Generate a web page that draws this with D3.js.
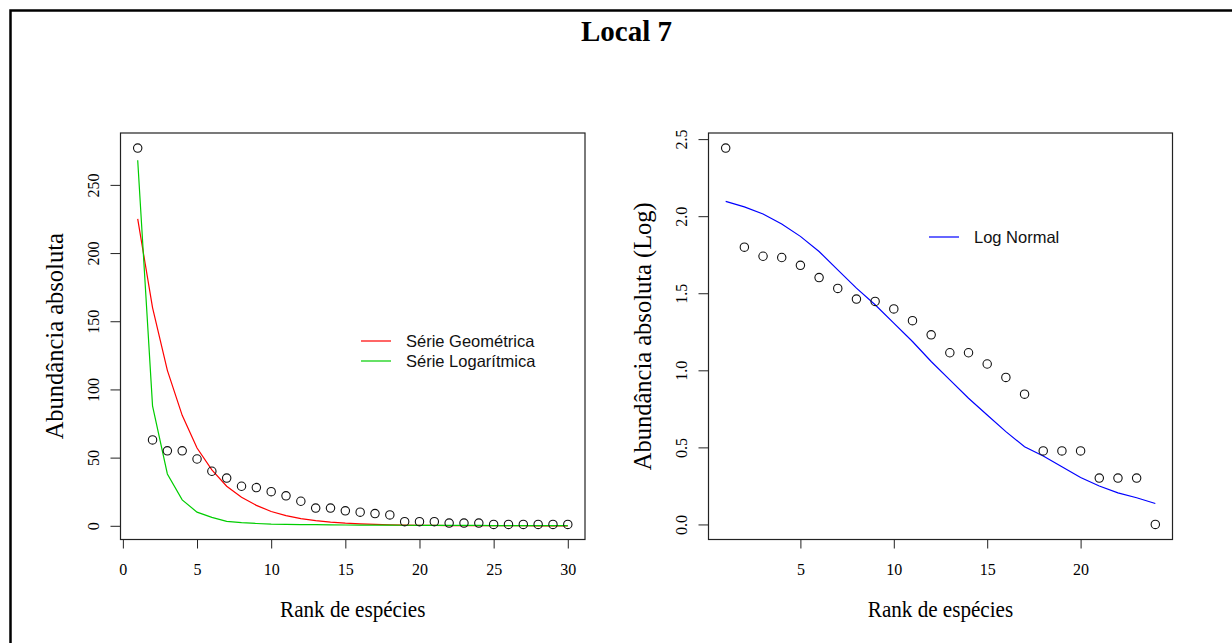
<!DOCTYPE html>
<html>
<head>
<meta charset="utf-8">
<script src="https://cdn.jsdelivr.net/npm/d3@7"></script>
<style>
  html, body { margin: 0; padding: 0; background: #fff; overflow: hidden; }
  svg { display: block; }
</style>
</head>
<body>
<svg id="chart" width="1232" height="643"></svg>
<script>
// Rank-abundance data, Local 7
const ranksLeft = [1,2,3,4,5,6,7,8,9,10,11,12,13,14,15,16,17,18,19,20,21,22,23,24,25,26,27,28,29,30];
const abundance = [277,63,55,55,49,40,35,29,28,25,22,18,13,13,11,10,9,8,3,3,3,2,2,2,1,1,1,1,1,1];
// Fitted geometric series
const geometricFit = [225,160,114,81,57,41,29,21,15,10.5,7.5,5.3,3.8,2.7,1.9,1.4,1.0,0.7,0.5,0.35,0.25,0.18,0.13,0.09,0.06,0.05,0.03,0.02,0.02,0.01];
// Fitted log series
const logSeriesFit = [268,88,38,19,10,6.2,3.3,2.3,1.7,1.2,1.0,0.9,0.8,0.7,0.6,0.55,0.5,0.45,0.4,0.35,0.3,0.3,0.25,0.25,0.2,0.2,0.2,0.15,0.15,0.15];

const ranksRight = [1,2,3,4,5,6,7,8,9,10,11,12,13,14,15,16,17,18,19,20,21,22,23,24];
const logAbundance = [2.442,1.799,1.740,1.732,1.681,1.602,1.531,1.462,1.447,1.398,1.322,1.230,1.114,1.114,1.041,0.954,0.845,0.477,0.477,0.477,0.301,0.301,0.301,0];
// Fitted log-normal
const logNormalFit = [2.096,2.060,2.014,1.949,1.869,1.771,1.652,1.533,1.425,1.306,1.187,1.057,0.938,0.819,0.710,0.602,0.504,0.444,0.374,0.305,0.249,0.205,0.173,0.136];

const xTicksLeft = [0,5,10,15,20,25,30];
const yTicksLeft = [0,50,100,150,200,250];
const xTicksRight = [5,10,15,20];
const yTicksRight = [0,0.5,1,1.5,2,2.5];

const SERIF = "'Liberation Serif', 'Times New Roman', serif";
const SANS = "'Liberation Sans', Arial, sans-serif";

const svg = d3.select("#chart");

// outer frame
svg.append("rect")
  .attr("x", 10.5).attr("y", 10.5)
  .attr("width", 1234).attr("height", 700)
  .attr("fill", "none").attr("stroke", "#000").attr("stroke-width", 2.5);

svg.append("text")
  .attr("x", 626.5).attr("y", 40.5)
  .attr("text-anchor", "middle")
  .attr("font-family", SERIF).attr("font-weight", "bold").attr("font-size", 29)
  .text("Local 7");

// padded domain: 4% beyond the data range on each side
function padded(vals) {
  const [a, b] = d3.extent(vals);
  const p = (b - a) * 0.04;
  return [a - p, b + p];
}

function panel(opts) {
  const { x0, x1, y0, y1 } = opts;
  const x = d3.scaleLinear().domain(padded(opts.xs)).range([x0, x1]);
  const y = d3.scaleLinear().domain(padded(opts.ys)).range([y1, y0]);
  const g = svg.append("g");

  // x axis ticks and labels
  const xa = g.append("g").attr("transform", `translate(0,${y1})`)
    .call(d3.axisBottom(x).tickValues(opts.xTicks).tickSize(9).tickPadding(15).tickFormat(d3.format("d")));
  xa.select(".domain").remove();
  xa.selectAll("line").attr("stroke", "#222");
  xa.selectAll("text").attr("font-family", SERIF).attr("font-size", 16).attr("fill", "#000");

  // y axis ticks and rotated labels
  const ya = g.append("g").attr("transform", `translate(${x0},0)`)
    .call(d3.axisLeft(y).tickValues(opts.yTicks).tickSize(10).tickFormat(opts.yFormat));
  ya.select(".domain").remove();
  ya.selectAll("line").attr("stroke", "#222");
  ya.selectAll("text")
    .attr("x", null).attr("dy", "0.35em")
    .attr("transform", "translate(-27,0) rotate(-90)")
    .attr("text-anchor", "middle")
    .attr("font-family", SERIF).attr("font-size", 16).attr("fill", "#000");

  // fitted curves
  const line = d3.line().x((d, i) => x(opts.xs[i])).y(d => y(d));
  opts.curves.forEach(c => {
    g.append("path").datum(c.values)
      .attr("d", line).attr("fill", "none")
      .attr("stroke", c.color).attr("stroke-width", 1.2);
  });

  // observed points
  g.selectAll("circle.obs").data(opts.ys).join("circle")
    .attr("class", "obs")
    .attr("cx", (d, i) => x(opts.xs[i])).attr("cy", d => y(d))
    .attr("r", 4.2).attr("fill", "none").attr("stroke", "#111").attr("stroke-width", 1.1);

  // box
  g.append("rect")
    .attr("x", x0).attr("y", y0).attr("width", x1 - x0).attr("height", y1 - y0)
    .attr("fill", "none").attr("stroke", "#222").attr("stroke-width", 1.2);

  // axis titles (horizontal one slightly condensed)
  g.append("text")
    .attr("transform", `translate(${(x0 + x1) / 2},${y1 + 77}) scale(0.88,1)`)
    .attr("text-anchor", "middle")
    .attr("font-family", SERIF).attr("font-size", 24)
    .text(opts.xTitle);
  g.append("text")
    .attr("transform", `translate(${x0 - 66},${(y0 + y1) / 2}) rotate(-90)`)
    .attr("dy", "0.35em")
    .attr("text-anchor", "middle")
    .attr("font-family", SERIF).attr("font-size", 24.5)
    .text(opts.yTitle);

  // legend
  opts.legend.items.forEach((it, i) => {
    const ly = opts.legend.y + i * opts.legend.gap;
    g.append("line")
      .attr("x1", opts.legend.x).attr("x2", opts.legend.x + 30)
      .attr("y1", ly).attr("y2", ly)
      .attr("stroke", it.color).attr("stroke-width", 1.2);
    g.append("text")
      .attr("x", opts.legend.x + 45).attr("y", ly).attr("dy", "0.35em")
      .attr("font-family", SANS).attr("font-size", 16.5).attr("fill", "#111")
      .text(it.label);
  });
}

panel({
  x0: 120.5, x1: 585, y0: 133, y1: 539.5,
  xs: ranksLeft, ys: abundance,
  xTicks: xTicksLeft, yTicks: yTicksLeft, yFormat: d3.format("d"),
  curves: [
    { values: geometricFit, color: "#FF0000" },
    { values: logSeriesFit, color: "#00CD00" }
  ],
  xTitle: "Rank de espécies",
  yTitle: "Abundância absoluta",
  legend: { x: 361, y: 341, gap: 20, items: [
    { label: "Série Geométrica", color: "#FF0000" },
    { label: "Série Logarítmica", color: "#00CD00" }
  ]}
});

panel({
  x0: 708.5, x1: 1172.5, y0: 133, y1: 539.5,
  xs: ranksRight, ys: logAbundance,
  xTicks: xTicksRight, yTicks: yTicksRight, yFormat: d3.format(".1f"),
  curves: [
    { values: logNormalFit, color: "#0000FF" }
  ],
  xTitle: "Rank de espécies",
  yTitle: "Abundância absoluta (Log)",
  legend: { x: 929, y: 237, gap: 20, items: [
    { label: "Log Normal", color: "#0000FF" }
  ]}
});
</script>
</body>
</html>
